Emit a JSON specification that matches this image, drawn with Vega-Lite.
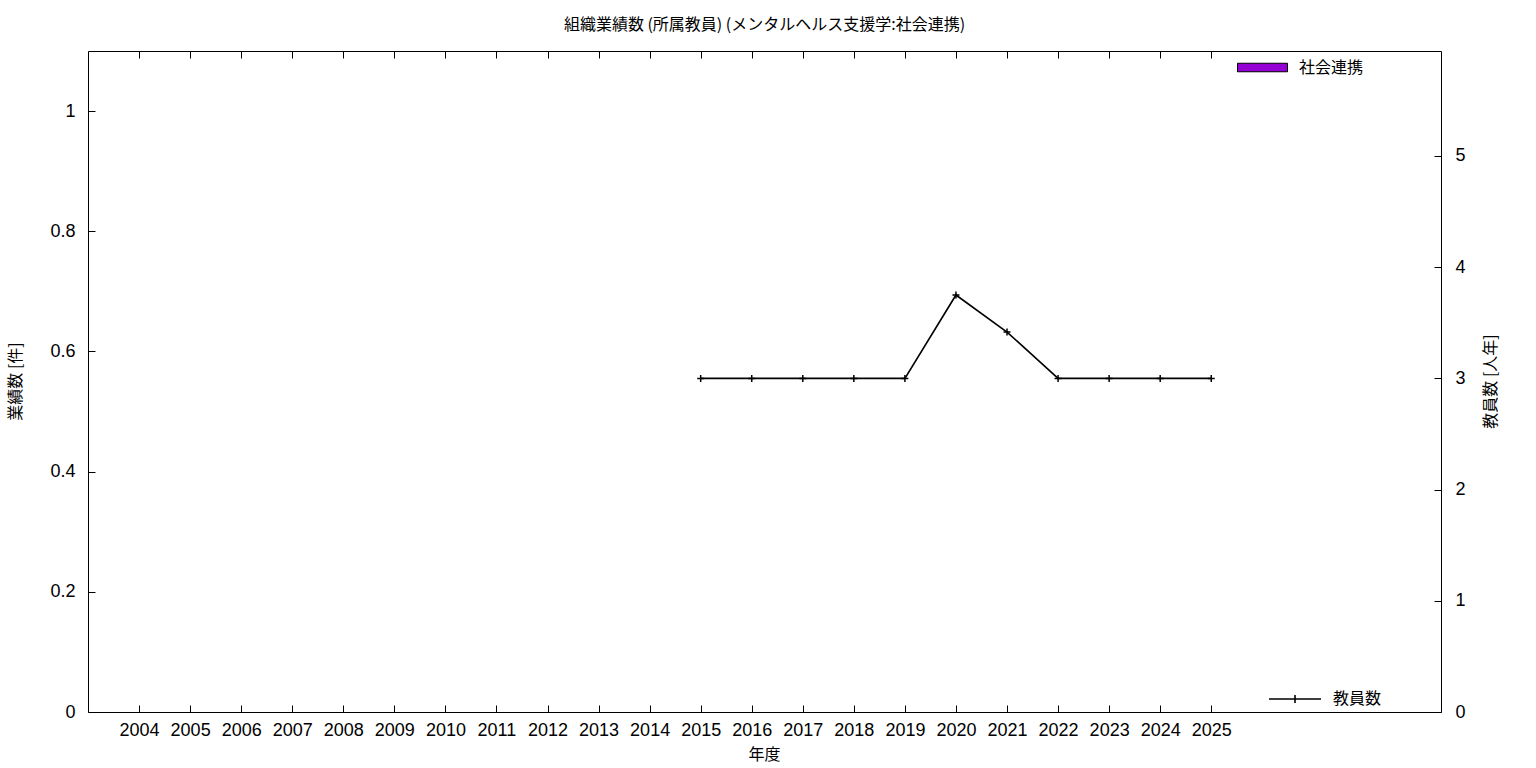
{
  "$schema": "https://vega.github.io/schema/vega-lite/v6.json",
  "width": 1353,
  "height": 661,
  "autosize": {"type": "none"},
  "padding": {"left": 88, "top": 51, "right": 95, "bottom": 56},
  "background": "white",
  "config": {
    "view": {"stroke": "black", "strokeWidth": 1},
    "font": "Noto Sans CJK JP",
    "axis": {"grid": false, "domain": false, "tickColor": "black", "tickSize": -7, "tickWidth": 1, "labelColor": "black", "titleColor": "black", "labelFont": "Liberation Sans", "labelFontSize": 18, "titleFont": "Noto Sans CJK JP", "titleFontSize": 16, "titleFontWeight": "normal"},
    "legend": {"labelFont": "Noto Sans CJK JP", "labelFontSize": 16, "labelColor": "black", "title": null}
  },
  "title": {"text": "組織業績数 (所属教員) (メンタルヘルス支援学:社会連携)", "fontSize": 16, "fontWeight": "normal", "font": "Noto Sans CJK JP", "color": "black", "anchor": "middle", "offset": 9},
  "datasets": {
    "works": [
      {"year": 2004, "count": 0, "series": "社会連携"},
      {"year": 2005, "count": 0, "series": "社会連携"},
      {"year": 2006, "count": 0, "series": "社会連携"},
      {"year": 2007, "count": 0, "series": "社会連携"},
      {"year": 2008, "count": 0, "series": "社会連携"},
      {"year": 2009, "count": 0, "series": "社会連携"},
      {"year": 2010, "count": 0, "series": "社会連携"},
      {"year": 2011, "count": 0, "series": "社会連携"},
      {"year": 2012, "count": 0, "series": "社会連携"},
      {"year": 2013, "count": 0, "series": "社会連携"},
      {"year": 2014, "count": 0, "series": "社会連携"},
      {"year": 2015, "count": 0, "series": "社会連携"},
      {"year": 2016, "count": 0, "series": "社会連携"},
      {"year": 2017, "count": 0, "series": "社会連携"},
      {"year": 2018, "count": 0, "series": "社会連携"},
      {"year": 2019, "count": 0, "series": "社会連携"},
      {"year": 2020, "count": 0, "series": "社会連携"},
      {"year": 2021, "count": 0, "series": "社会連携"},
      {"year": 2022, "count": 0, "series": "社会連携"},
      {"year": 2023, "count": 0, "series": "社会連携"},
      {"year": 2024, "count": 0, "series": "社会連携"},
      {"year": 2025, "count": 0, "series": "社会連携"}
    ],
    "staff": [
      {"year": 2015, "staff": 3, "series": "教員数"},
      {"year": 2016, "staff": 3, "series": "教員数"},
      {"year": 2017, "staff": 3, "series": "教員数"},
      {"year": 2018, "staff": 3, "series": "教員数"},
      {"year": 2019, "staff": 3, "series": "教員数"},
      {"year": 2020, "staff": 3.75, "series": "教員数"},
      {"year": 2021, "staff": 3.4167, "series": "教員数"},
      {"year": 2022, "staff": 3, "series": "教員数"},
      {"year": 2023, "staff": 3, "series": "教員数"},
      {"year": 2024, "staff": 3, "series": "教員数"},
      {"year": 2025, "staff": 3, "series": "教員数"}
    ]
  },
  "layer": [
    {
      "data": {"name": "works"},
      "mark": {"type": "bar", "width": 40, "stroke": "black", "strokeWidth": 0},
      "encoding": {
        "x": {"field": "year", "type": "quantitative", "scale": {"domain": [2003, 2029.5], "nice": false, "zero": false, "padding": 0},
              "axis": {"orient": "bottom", "values": [2004,2005,2006,2007,2008,2009,2010,2011,2012,2013,2014,2015,2016,2017,2018,2019,2020,2021,2022,2023,2024,2025], "format": "d", "labelPadding": 16, "title": "年度", "titleX": 676, "titleY": 42, "titleBaseline": "middle", "titleAlign": "center", "labelFlush": false, "labelOverlap": false}},
        "y": {"field": "count", "type": "quantitative", "scale": {"domain": [0, 1.1], "nice": false},
              "axis": {"orient": "left", "values": [0, 0.2, 0.4, 0.6, 0.8, 1], "format": "~f", "labelPadding": 20, "title": "業績数 [件]", "titleX": -73, "titleY": 330, "titleAngle": 270, "titleBaseline": "middle", "titleAlign": "center"}},
        "color": {"field": "series", "type": "nominal", "scale": {"domain": ["社会連携"], "range": ["#9400d3"]},
                  "legend": {"orient": "none", "legendX": 1149, "legendY": -9, "symbolType": "M-1,-0.17H1V0.17H-1Z", "symbolSize": 2500, "labelOffset": 11, "symbolStrokeColor": "black", "symbolStrokeWidth": 1,
                             "encode": {"symbols": {"update": {"stroke": {"value": "black"}, "strokeWidth": {"value": 1}, "fill": {"value": "#9400d3"}, "opacity": {"value": 1}}}}}}
      }
    },
    {
      "data": {"name": "staff"},
      "layer": [
        {
          "mark": {"type": "line", "strokeWidth": 1.6},
          "encoding": {
            "x": {"field": "year", "type": "quantitative", "scale": {"domain": [2003, 2029.5], "nice": false, "zero": false, "padding": 0},
                  "axis": {"orient": "top", "values": [2004,2005,2006,2007,2008,2009,2010,2011,2012,2013,2014,2015,2016,2017,2018,2019,2020,2021,2022,2023,2024,2025], "labels": false, "title": null}},
            "y": {"field": "staff", "type": "quantitative", "scale": {"domain": [0, 5.944], "nice": false},
                  "axis": {"orient": "right", "values": [0, 1, 2, 3, 4, 5], "format": "d", "labelPadding": 21, "title": "教員数 [人年]", "titleX": 49, "titleY": 330, "titleAngle": 270, "titleBaseline": "middle", "titleAlign": "center"}},
            "stroke": {"field": "series", "type": "nominal", "scale": {"domain": ["教員数"], "range": ["black"]},
                       "legend": {"orient": "none", "legendX": 1180, "legendY": 621, "symbolType": "M-1,0H1M0,-0.15V0.15", "symbolSize": 2704, "symbolStrokeWidth": 1.6, "labelOffset": 11}}
          }
        },
        {
          "mark": {"type": "point", "shape": "M-1,0H1M0,-1V1", "filled": false, "size": 49, "stroke": "black", "strokeWidth": 1.5, "opacity": 1},
          "encoding": {
            "x": {"field": "year", "type": "quantitative"},
            "y": {"field": "staff", "type": "quantitative"}
          }
        }
      ]
    }
  ],
  "resolve": {"scale": {"y": "independent"}, "axis": {"x": "independent", "y": "independent"}}
}
